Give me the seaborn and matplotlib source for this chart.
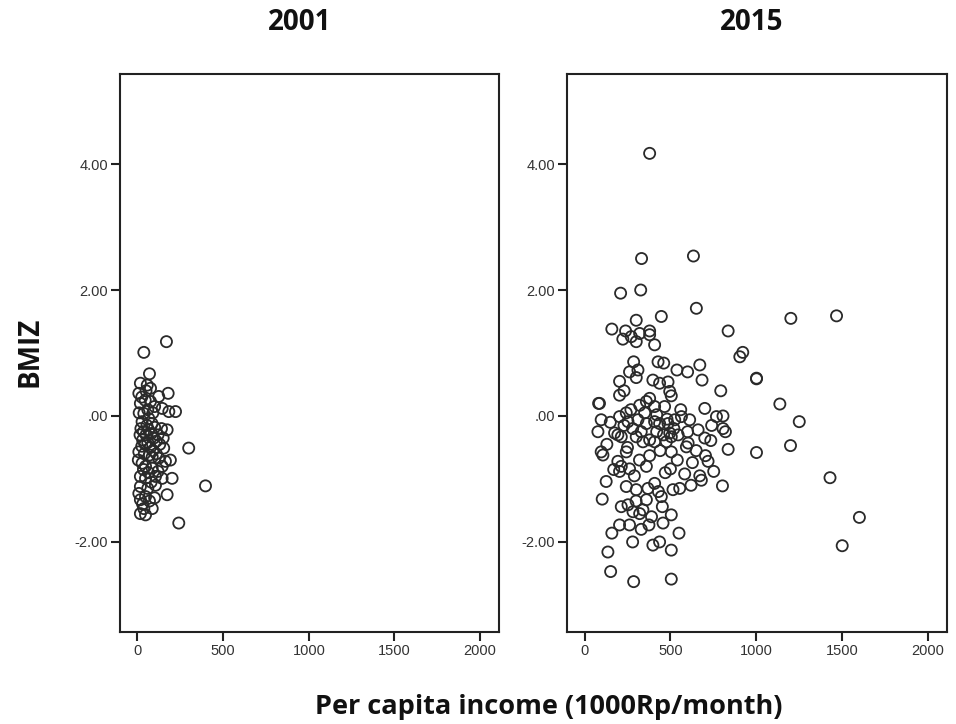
import matplotlib
matplotlib.use("Agg")
import matplotlib.pyplot as plt
import seaborn as sns
import pandas as pd

# ---- data ----
years = ["2001", "2015"]
x_ticks = [0, 500, 1000, 1500, 2000]
y_ticks = [-2.0, 0.0, 2.0, 4.0]
y_tick_labels = ["-2.00", ".00", "2.00", "4.00"]

income_2001 = [169, 37, 70, 17, 57, 76, 179, 124, 8, 17, 76, 144, 183, 222, 37, 66, 27, 173, 299, 153,
               8, 5, 27, 86, 124, 163, 144, 192, 47, 86, 17, 47, 105, 202, 144, 397, 173, 105, 17, 8,
               47, 17, 86, 37, 17, 47, 241,
               20, 35, 50, 65, 80, 95, 110, 30, 45, 60, 75, 90, 15, 25, 55, 100, 120, 40, 70, 130,
               60, 90, 25, 45, 100, 35, 65, 120, 80, 60, 30, 100, 70, 10, 50, 110, 85, 140, 150]
bmiz_2001 = [1.18, 1.01, 0.67, 0.52, 0.49, 0.44, 0.36, 0.31, 0.36, 0.20, 0.23, 0.12, 0.07, 0.07, 0.04, -0.04, -0.09, -0.22, -0.51, -0.51,
             -0.57, -0.70, -0.75, -0.65, -0.67, -0.72, -0.80, -0.70, -0.80, -0.83, -0.96, -0.99, -0.96, -0.99, -0.99, -1.11, -1.25, -1.10, -1.12, -1.23,
             -1.28, -1.33, -1.47, -1.47, -1.55, -1.57, -1.70,
             -0.20, -0.25, -0.30, -0.22, -0.28, -0.35, -0.40, -0.38, -0.45, -0.42, -0.50, -0.55, -0.30, -0.48, -0.15, -0.18, -0.30, -0.60, -0.62, -0.45,
             0.10, 0.05, 0.30, 0.25, 0.15, -0.85, -0.90, -0.88, -1.05, -1.15, -1.40, -1.30, -1.35, 0.05, 0.40, -0.60, -0.12, -0.20, -0.35]

income_2015 = [379, 332, 634, 210, 327, 651, 301, 447, 159, 239, 223, 272, 301, 321, 379, 379, 408, 836, 904, 921,
               286, 262, 311, 301, 428, 461, 538, 671, 204, 204, 87, 398, 437, 486, 496, 505, 379, 360, 321, 408,
               466, 1201, 1467, 1001, 1001, 1137, 1250, 1199, 1001, 1429, 1600, 1500, 836, 803, 793, 684, 700, 768, 806, 806,
               820, 735, 704, 719, 752, 671, 680, 628, 583, 500, 603, 593, 661, 505, 550, 505, 505, 286, 152, 136,
               159, 103, 126, 82, 78, 97, 97, 107, 243, 204, 253, 311, 360, 408, 437, 486, 525, 564, 612, 175,
               194, 214, 301, 340, 379, 408, 496, 505, 476, 379, 243, 194, 214, 204, 262, 243, 301, 369, 408, 360,
               447, 515, 554, 214, 253, 282, 321, 340, 262, 204, 375, 453, 457, 505, 398, 437,
               150, 230, 280, 330, 420, 460, 520, 545, 480, 350, 270, 420, 600, 560, 230, 250, 320, 440, 470, 430,
               290, 360, 540, 620, 700, 650, 300, 390, 280, 330, 600, 170, 130, 740]
bmiz_2015 = [4.17, 2.50, 2.54, 1.95, 2.00, 1.71, 1.52, 1.58, 1.38, 1.35, 1.22, 1.26, 1.18, 1.31, 1.35, 1.29, 1.13, 1.35, 0.94, 1.01,
             0.86, 0.70, 0.73, 0.61, 0.86, 0.84, 0.73, 0.81, 0.55, 0.33, 0.20, 0.57, 0.52, 0.54, 0.39, 0.32, 0.28, 0.23, 0.17, 0.15,
             0.15, 1.55, 1.59, 0.60, 0.59, 0.19, -0.09, -0.47, -0.58, -0.98, -1.61, -2.06, -0.53, -1.11, 0.40, 0.57, 0.12, -0.01, 0.00, -0.20,
             -0.25, -0.39, -0.63, -0.72, -0.88, -0.95, -1.02, -0.74, -0.92, -0.84, -0.43, -0.49, -0.22, -0.57, -1.86, -2.13, -2.59, -2.63, -2.47, -2.16,
             -1.86, -1.32, -1.04, 0.20, -0.25, -0.06, -0.57, -0.62, 0.05, -0.01, -0.09, -0.06, -0.12, -0.09, -0.12, -0.12, -0.06, -0.01, -0.06, -0.27,
             -0.30, -0.33, -0.33, -0.41, -0.38, -0.41, -0.27, -0.33, -0.41, -0.63, -0.57, -0.72, -0.80, -0.88, -0.84, -1.12, -1.17, -1.15, -1.07, -1.33,
             -1.28, -1.17, -1.15, -1.44, -1.41, -1.52, -1.55, -1.49, -1.73, -1.73, -1.73, -1.44, -1.70, -1.57, -2.05, -2.00,
             -0.10, -0.15, -0.20, -0.25, -0.25, -0.30, -0.20, -0.30, -0.05, 0.05, 0.10, 0.02, 0.70, 0.10, 0.40, -0.50, -0.70, -0.55, -0.90, -1.20,
             -0.95, -0.80, -0.70, -1.10, -0.35, -0.55, -1.35, -1.60, -2.00, -1.80, -0.25, -0.85, -0.45, -0.15]

data = {
    "2001": pd.DataFrame({"income": income_2001, "bmiz": bmiz_2001}),
    "2015": pd.DataFrame({"income": income_2015, "bmiz": bmiz_2015}),
}

sns.set_style("white")
plt.rcParams["font.family"] = ["Liberation Sans", "DejaVu Sans"]

fig = plt.figure(figsize=(9.56, 7.24), dpi=100)
axes_rects = [
    [120 / 956, 92 / 724, 379 / 956, 558 / 724],
    [567 / 956, 92 / 724, 380 / 956, 558 / 724],
]
title_x = [299.5 / 956, 752 / 956]

for rect, yr, tx in zip(axes_rects, years, title_x):
    ax = fig.add_axes(rect)
    sns.scatterplot(data=data[yr], x="income", y="bmiz", ax=ax, s=64,
                    facecolor="none", edgecolor="#2a2a2a", linewidth=1.3, legend=False)
    ax.set_xlim(-102, 2110)
    ax.set_ylim(-3.43, 5.43)
    ax.set_xticks(x_ticks)
    ax.set_xticklabels([str(t) for t in x_ticks])
    ax.set_yticks(y_ticks)
    ax.set_yticklabels(y_tick_labels)
    ax.set_xlabel("")
    ax.set_ylabel("")
    for sp in ax.spines.values():
        sp.set_visible(True)
        sp.set_color("#222222")
        sp.set_linewidth(1.5)
    ax.tick_params(axis="both", direction="out", length=6.5, width=1.5, color="#222222",
                   labelsize=10.5, labelcolor="#333333", pad=2, left=True, bottom=True)
    fig.text(tx, 1 - 23 / 724, yr, ha="center", va="center", fontsize=20,
             fontweight="bold", family=["Open Sans", "DejaVu Sans"], color="#111111")

fig.text(549 / 956, 1 - 707 / 724, "Per capita income (1000Rp/month)", ha="center", va="center",
         fontsize=19.5, fontweight="bold", family=["Open Sans", "DejaVu Sans"], color="#111111")
fig.text(30 / 956, 1 - 352 / 724, "BMIZ", ha="center", va="center", rotation=90,
         fontsize=20, fontweight="bold", family=["Open Sans", "DejaVu Sans"], color="#111111")

fig.savefig("out.png", dpi=100)
